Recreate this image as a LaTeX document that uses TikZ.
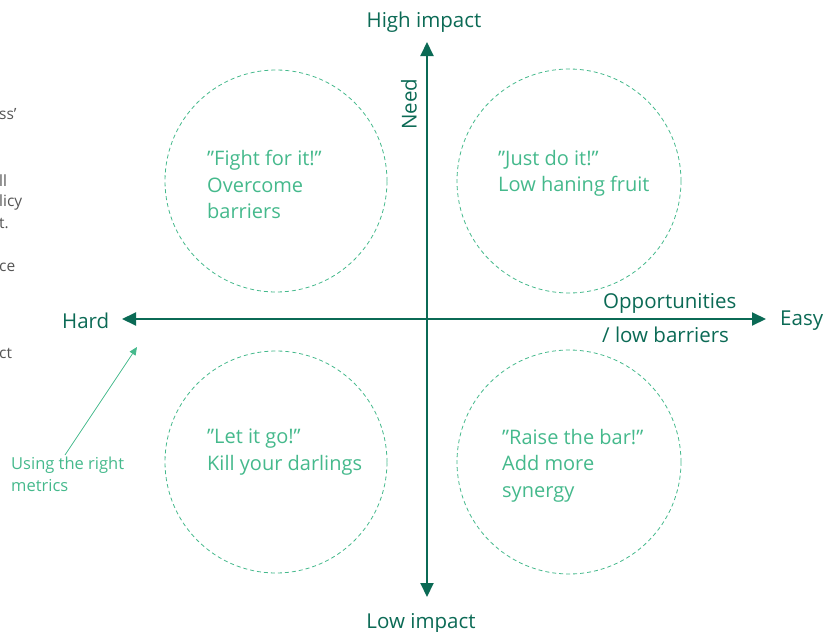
\documentclass[tikz,border=0pt]{standalone}
\usepackage{fontspec}
\setmainfont{Open Sans}
\usetikzlibrary{arrows.meta}
\definecolor{axisgreen}{HTML}{0B6A55}
\definecolor{lightgreen}{HTML}{45B98C}
\definecolor{fraggray}{HTML}{555555}
\tikzset{
  axis/.style={draw=axisgreen, line width=2pt, -{Triangle[length=14pt,width=13pt]}},
  quad/.style={draw=lightgreen, line width=0.8pt, dash pattern=on 4pt off 3pt},
  qtext/.style={text=lightgreen, font=\fontsize{20}{26.5}\selectfont, align=left, anchor=north west, inner sep=0pt},
  atext/.style={text=axisgreen, font=\fontsize{20.5}{26}\selectfont, inner sep=0pt},
  frag/.style={text=fraggray, font=\fontsize{15.5}{16}\selectfont, anchor=west, inner sep=0pt},
  note/.style={text=lightgreen, font=\fontsize{16.5}{22}\selectfont, align=left, anchor=north west, inner sep=0pt},
  notearrow/.style={draw=lightgreen, line width=0.8pt, -{Triangle[length=8pt,width=7pt]}}
}
\begin{document}
\begin{tikzpicture}[x=1pt,y=-1pt]
\useasboundingbox (0,0) rectangle (831,632);
% axes
\coordinate (center) at (427,319);
\coordinate (top) at (427,42);
\coordinate (bottom) at (427,597);
\coordinate (left) at (122,319);
\coordinate (right) at (766,319);
\draw[axis] (center) -- (top);
\draw[axis] (center) -- (bottom);
\draw[axis] (center) -- (left);
\draw[axis] (center) -- (right);
% circles
\node[quad, circle, minimum size=222pt] (ctl) at (276,181) {};
\node[quad, circle, minimum size=224pt] (ctr) at (569,181) {};
\node[quad, circle, minimum size=222pt] (cbl) at (276,462) {};
\node[quad, circle, minimum size=224pt] (cbr) at (569,462) {};
% quadrant texts
\node[qtext] (ttl) at (207,150) {”Fight for it!”\\Overcome\\barriers};
\node[qtext] (ttr) at (498,150) {”Just do it!”\\Low haning fruit};
\node[qtext] (tbl) at (207,429) {”Let it go!”\\Kill your darlings};
\node[qtext] (tbr) at (502,429) {”Raise the bar!”\\Add more\\synergy};
% axis labels
\node[atext] (high) at (424,22) {High impact};
\node[atext] (low) at (421,623) {Low impact};
\node[atext, anchor=west] (hard) at (62,321) {Hard};
\node[atext, anchor=west] (easy) at (780,321) {Easy};
\node[atext, rotate=90] (need) at (409,104) {Need};
\node[atext, anchor=west] (opp) at (603,303) {Opportunities};
\node[atext, anchor=west] (lowb) at (602,335) {/ low barriers};
% note
\node[note] (metrics) at (11,457) {Using the right\\metrics};
\coordinate (notestart) at (65,455);
\coordinate (noteend) at (137,347);
\draw[notearrow] (notestart) -- (noteend);
% cut-off fragments at left edge
\node[frag] (f1) at (-1,114) {ss'};
\node[frag] (f2) at (-1,181) {ll};
\node[frag] (f3) at (-1,202) {licy};
\node[frag] (f4) at (-1,223) {t.};
\node[frag] (f5) at (-1,267) {ce};
\node[frag] (f6) at (-1,353) {ct};
\end{tikzpicture}
\end{document}
